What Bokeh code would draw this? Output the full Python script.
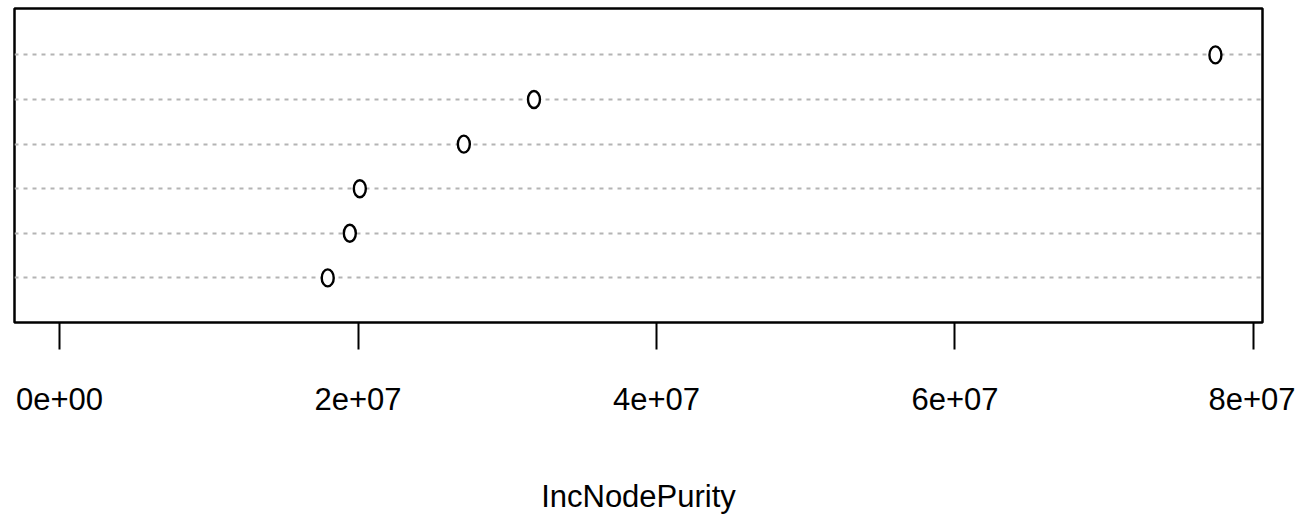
from bokeh.plotting import figure
from bokeh.models import Range1d, FixedTicker, ColumnDataSource
from bokeh.embed import file_html
from bokeh.resources import INLINE

# data (bottom row first)
rows = [1, 2, 3, 4, 5, 6]
values = [1.797e7, 1.945e7, 2.012e7, 2.709e7, 3.179e7, 7.745e7]
tick_values = [0, 2e7, 4e7, 6e7, 8e7]
tick_labels = ["0e+00", "2e+07", "4e+07", "6e+07", "8e+07"]
x_title = "IncNodePurity"

FONT = "'Liberation Sans', Arial, sans-serif"

p = figure(width=1295, height=516, output_backend="svg", toolbar_location=None,
           x_range=Range1d(-3.018e6, 8.0604e7), y_range=Range1d(0.0, 7.04),
           y_axis_location=None, min_border_left=14, min_border_right=33,
           min_border_top=8, min_border_bottom=0)

p.outline_line_color = "black"
p.outline_line_width = 2.5
p.background_fill_color = "white"
p.border_fill_color = "white"

p.xgrid.visible = False
p.ygrid.ticker = FixedTicker(ticks=rows)
p.ygrid.grid_line_color = "#b4b4b4"
p.ygrid.grid_line_width = 2
p.ygrid.grid_line_dash = "4 5"

ax = p.xaxis[0]
ax.ticker = FixedTicker(ticks=tick_values)
ax.major_label_overrides = {t: l for t, l in zip(tick_values, tick_labels)}
ax.axis_line_color = None
ax.major_tick_in = 0
ax.major_tick_out = 27
ax.major_tick_line_width = 2
ax.major_tick_line_color = "black"
ax.minor_tick_line_color = None
ax.major_label_standoff = 38
ax.major_label_text_font = FONT
ax.major_label_text_font_size = "31px"
ax.major_label_text_color = "black"
ax.axis_label = x_title
ax.axis_label_text_font = FONT
ax.axis_label_text_font_size = "31px"
ax.axis_label_text_font_style = "normal"
ax.axis_label_text_color = "black"
ax.axis_label_standoff = 66

src = ColumnDataSource(data=dict(x=values, y=rows))
p.ellipse(x="x", y="y", width=12, height=17, width_units="screen", height_units="screen",
          source=src, fill_color="white", line_color="black", line_width=2.4)

open("out.html", "w").write(file_html(p, INLINE))
